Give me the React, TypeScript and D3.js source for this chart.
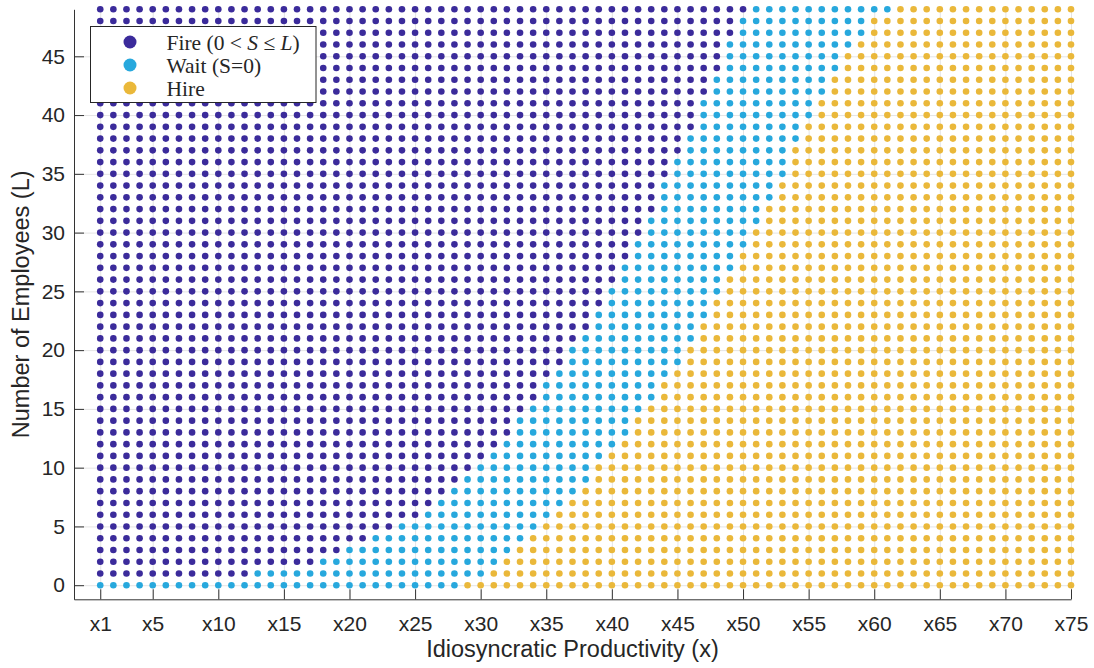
import React, { useEffect, useRef } from 'react';
import * as d3 from 'd3';

// last x index in the Fire region for each L (0 = no fire)
const fireEnd = [
  0, 12, 17, 19, 21, 23, 25, 26, 27, 28,
  29, 30, 31, 32, 32, 33, 34, 34, 35, 36,
  36, 37, 38, 38, 39, 39, 40, 40, 41, 41,
  42, 42, 43, 43, 43, 44, 44, 45, 45, 46,
  46, 46, 47, 47, 48, 48, 48, 49, 49, 50,
];

// first x index in the Hire region for each L
const hireStart = [
  29, 31, 32, 33, 34, 35, 36, 37, 38, 39,
  39, 40, 41, 42, 42, 43, 44, 44, 45, 46,
  46, 47, 47, 48, 48, 49, 49, 50, 50, 51,
  51, 52, 52, 53, 53, 54, 54, 54, 55, 55,
  56, 56, 57, 57, 58, 58, 59, 60, 60, 62,
];

const productivity = d3.range(1, 76);
const employees = d3.range(0, 50);

const xTicks = [1, 5, 10, 15, 20, 25, 30, 35, 40, 45, 50, 55, 60, 65, 70, 75];
const yTicks = [0, 5, 10, 15, 20, 25, 30, 35, 40, 45];

const categories = ['Fire', 'Wait', 'Hire'];
const colors = ['#3b2b9b', '#27a8dd', '#eab83a'];

export default function App() {
  const svgRef = useRef<SVGSVGElement>(null);

  useEffect(() => {
    if (!svgRef.current) return;
    const svg = d3.select(svgRef.current);
    svg.selectAll('*').remove();

    const left = 74, right = 1071, top = 9.3, bottom = 599.3;
    const x = d3.scaleLinear().domain([-1, 75]).range([left, right]);
    const y = d3.scaleLinear().domain([-1.2, 49]).range([bottom, top]);
    const color = d3.scaleOrdinal<string, string>().domain(categories).range(colors);

    const cells: { x: number; l: number; c: string }[] = [];
    employees.forEach((l, i) => {
      productivity.forEach(p => {
        const c = p >= hireStart[i] ? 'Hire' : p <= fireEnd[i] ? 'Fire' : 'Wait';
        cells.push({ x: p, l, c });
      });
    });

    // grid
    svg.append('g')
      .attr('transform', `translate(0,${bottom})`)
      .call(d3.axisBottom(x).tickValues(xTicks).tickSize(-(bottom - top)).tickFormat(() => ''))
      .call(g => g.select('.domain').remove())
      .selectAll('line').attr('stroke', '#e4e4e4');
    svg.append('g')
      .attr('transform', `translate(${left},0)`)
      .call(d3.axisLeft(y).tickValues(yTicks).tickSize(-(right - left)).tickFormat(() => ''))
      .call(g => g.select('.domain').remove())
      .selectAll('line').attr('stroke', '#e4e4e4');

    // dots
    svg.append('g')
      .selectAll('circle')
      .data(cells)
      .join('circle')
      .attr('cx', d => x(d.x))
      .attr('cy', d => y(d.l))
      .attr('r', 3.3)
      .attr('fill', d => color(d.c));

    // axes
    const xAxis = svg.append('g')
      .attr('transform', `translate(0,${bottom})`)
      .call(d3.axisBottom(x).tickValues(xTicks).tickSizeInner(-10).tickSizeOuter(0)
        .tickPadding(17).tickFormat(d => `x${d}`));
    const yAxis = svg.append('g')
      .attr('transform', `translate(${left},0)`)
      .call(d3.axisLeft(y).tickValues(yTicks).tickSizeInner(-10).tickSizeOuter(0)
        .tickPadding(9));

    [xAxis, yAxis].forEach(a => {
      a.select('.domain').attr('stroke', '#333');
      a.selectAll('.tick line').attr('stroke', '#333');
      a.selectAll('.tick text')
        .attr('fill', '#262626')
        .style('font-family', '"Liberation Sans", Arial, sans-serif')
        .style('font-size', '21px');
    });

    svg.append('text')
      .attr('x', (left + right) / 2)
      .attr('y', 657)
      .attr('text-anchor', 'middle')
      .attr('fill', '#262626')
      .style('font-family', '"Liberation Sans", Arial, sans-serif')
      .style('font-size', '23.5px')
      .text('Idiosyncratic Productivity (x)');

    svg.append('text')
      .attr('transform', `translate(29,${(top + bottom) / 2}) rotate(-90)`)
      .attr('text-anchor', 'middle')
      .attr('fill', '#262626')
      .style('font-family', '"Liberation Sans", Arial, sans-serif')
      .style('font-size', '23.5px')
      .text('Number of Employees (L)');

    // legend
    const legend = svg.append('g');
    legend.append('rect')
      .attr('x', 90.5).attr('y', 26.5)
      .attr('width', 225.5).attr('height', 76)
      .attr('fill', '#fff')
      .attr('stroke', '#262626')
      .attr('stroke-width', 1);

    const rowsY = [42, 65, 88];
    const item = legend.selectAll('g.item')
      .data(categories)
      .join('g')
      .attr('class', 'item')
      .attr('transform', (_, i) => `translate(130,${rowsY[i]})`);
    item.append('circle').attr('r', 6.5).attr('fill', d => color(d));

    const label = item.append('text')
      .attr('x', 36.5)
      .attr('dy', '0.35em')
      .attr('fill', '#262626')
      .style('font-family', '"Liberation Serif", "Times New Roman", serif')
      .style('font-size', '21.5px');

    label.filter(d => d === 'Fire').each(function () {
      const t = d3.select(this);
      t.append('tspan').text('Fire (0 < ');
      t.append('tspan').style('font-style', 'italic').text('S');
      t.append('tspan').text(' ≤ ');
      t.append('tspan').style('font-style', 'italic').text('L');
      t.append('tspan').text(')');
    });
    label.filter(d => d === 'Wait').text('Wait (S=0)');
    label.filter(d => d === 'Hire').text('Hire');
  }, []);

  return (
    <div style={{ position: 'absolute', left: 0, top: 0 }}>
      <svg ref={svgRef} width={1094} height={668} style={{ display: 'block', background: '#fff' }} />
    </div>
  );
}
